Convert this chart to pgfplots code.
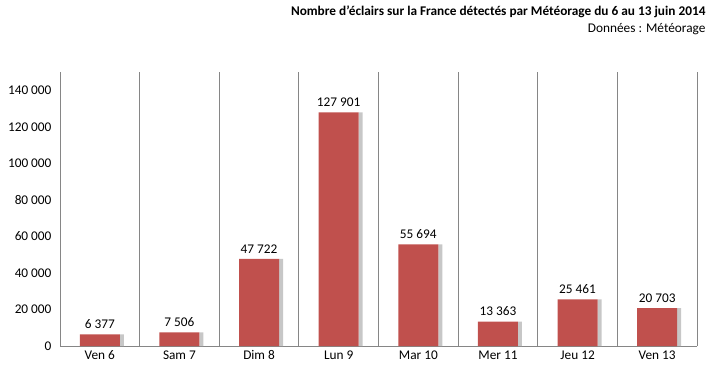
\documentclass[border=0pt]{standalone}
\usepackage{pgfplots}
\pgfplotsset{compat=1.18}
\usepackage{fontspec}
\setmainfont{Carlito}
\definecolor{barred}{HTML}{C0504D}
\definecolor{gridgray}{HTML}{868686}
\begin{document}
\begin{tikzpicture}
\path[use as bounding box] (0pt,0pt) rectangle (714pt,384pt);
\node[anchor=base east,font=\fontsize{13.3}{15}\selectfont\bfseries] at (709pt,368pt) {Nombre d'éclairs sur la France détectés par Météorage du 6 au 13 juin 2014};
\node[anchor=base east,font=\fontsize{13.3}{15}\selectfont] at (709pt,352pt) {Données : Météorage};
\begin{axis}[
  at={(60pt,38pt)}, anchor=south west,
  scale only axis, width=637pt, height=274pt,
  xmin=-0.5, xmax=7.5, ymin=0, ymax=150000,
  axis x line*=bottom, axis y line*=left,
  axis line style={gridgray},
  ytick={0,20000,...,140000},
  xtick={0,...,7},
  xticklabels={Ven 6,Sam 7,Dim 8,Lun 9,Mar 10,Mer 11,Jeu 12,Ven 13},
  minor xtick={-0.5,0.5,...,7.5},
  xminorgrids, minor grid style={gridgray, line width=0.8pt},
  major tick length=0pt, minor tick length=0pt,
  tick style={draw=none},
  scaled y ticks=false,
  /pgf/number format/fixed,
  /pgf/number format/1000 sep={\ },
  /pgf/number format/assume math mode=true,
  ticklabel style={font=\fontsize{13.3}{15}\selectfont},
  xticklabel style={yshift=-1pt},
  yticklabel style={xshift=-5pt},
  ybar, bar width=40pt,
  clip=false,
]
\addplot[draw=none, fill=black!22, bar width=4pt, bar shift=22pt] coordinates {
(0,6377) (1,7506) (2,47722) (3,127901) (4,55694) (5,13363) (6,25461) (7,20703)};
\addplot[fill=barred, draw=none, bar shift=0pt, nodes near coords,
  nodes near coords style={font=\fontsize{13.3}{15}\selectfont, black, yshift=2pt}] coordinates {
(0,6377) (1,7506) (2,47722) (3,127901) (4,55694) (5,13363) (6,25461) (7,20703)};
\end{axis}
\end{tikzpicture}
\end{document}
